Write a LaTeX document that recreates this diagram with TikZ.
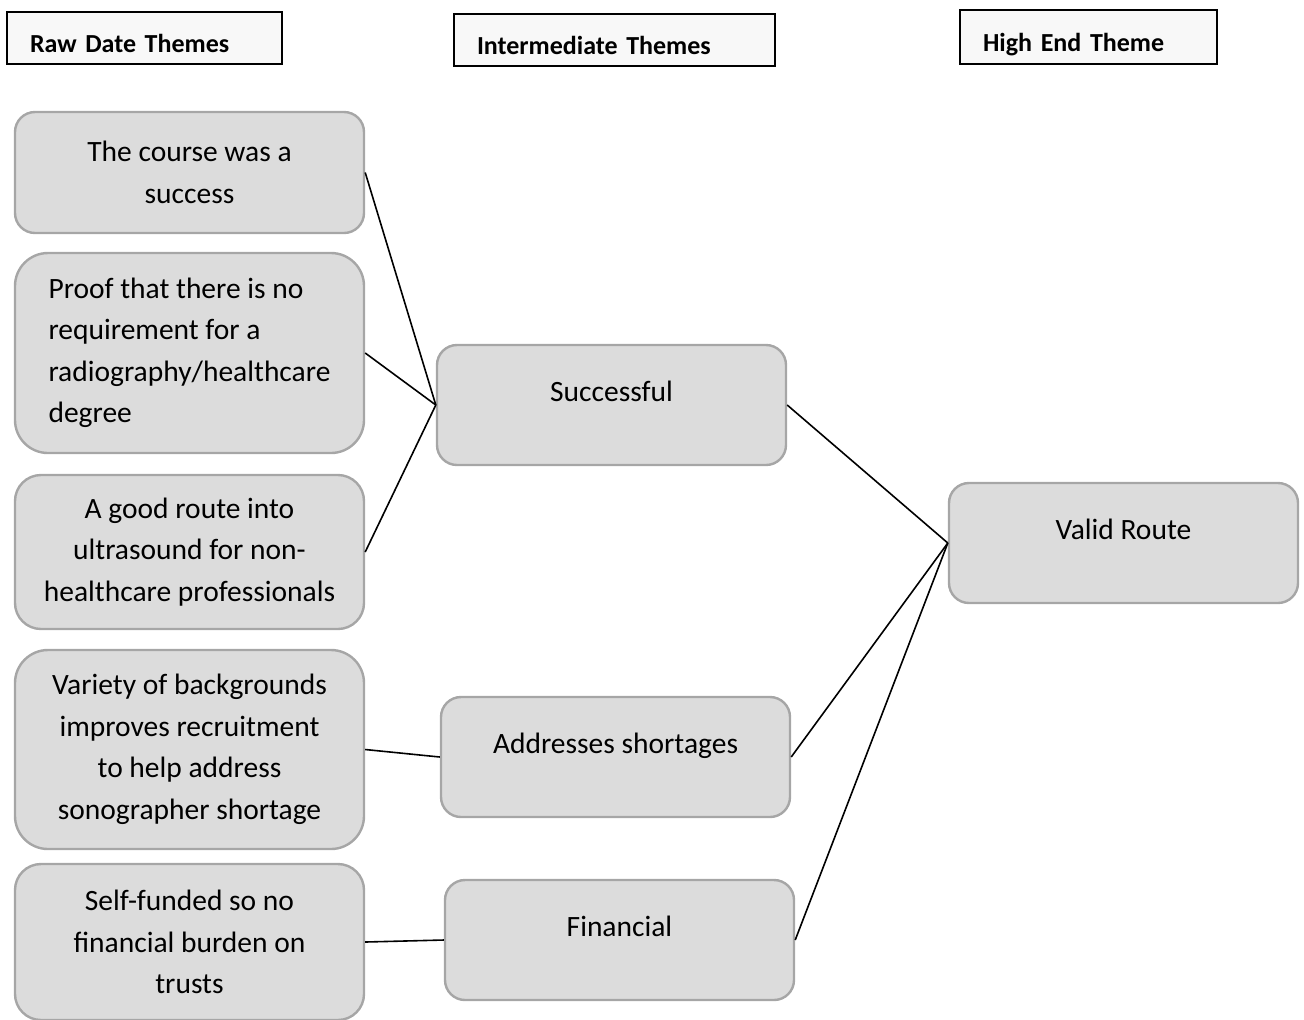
\documentclass[tikz,border=0pt]{standalone}
\usepackage{fontspec}
\setmainfont{Carlito}
\usetikzlibrary{positioning}

\definecolor{themefill}{HTML}{DCDCDC}
\definecolor{themeline}{HTML}{A6A6A6}
\definecolor{headfill}{HTML}{F8F8F8}

\tikzstyle{headnode} = [rectangle, draw=black, fill=headfill, line width=1pt, anchor=north west, align=left, inner xsep=11.5pt, text height=14.4pt, text depth=0pt, font=\fontsize{13}{15.6}\selectfont\bfseries]
\tikzstyle{rawnode} = [rectangle, rounded corners=10pt, draw=themeline, fill=themefill, line width=1.2pt, minimum width=174.5pt, align=center, font=\fontsize{14.75}{20.75}\selectfont]
\tikzstyle{midnode} = [rawnode, minimum height=60pt, text height=10pt, text depth=13.1pt]

\begin{document}
\begin{tikzpicture}[x=0.5pt, y=-0.5pt, node distance=8.8pt, thick]
        \useasboundingbox (0,0) rectangle (1304,1019);

        \node[headnode, text width=114.5pt, minimum height=26pt] (hraw) at (6,11) {Raw Date Themes};
        \node[headnode, text width=137.5pt, minimum height=26pt] (hmid) at (453,13) {Intermediate Themes};
        \node[headnode, text width=105.5pt, minimum height=27pt] (hhigh) at (959,9) {High End Theme};

        \node[rawnode, minimum height=60.5pt] (course) at (189.5,172.5) {The course was a\\success};
        \node[rawnode, below=of course, minimum height=100pt, rounded corners=16.5pt, align=left] (proof) {Proof that there is no\\requirement for a\\radiography/healthcare\\degree};
        \node[rawnode, below=9.8pt of proof, minimum height=77pt, rounded corners=13pt] (route) {A good route into\\ultrasound for non-\\healthcare professionals};
        \node[rawnode, below=9.3pt of route, minimum height=99.5pt, rounded corners=16.5pt] (variety) {Variety of backgrounds\\improves recruitment\\to help address\\sonographer shortage};
        \node[rawnode, below=6.3pt of variety, minimum height=78pt, rounded corners=13pt] (funded) {Self-funded so no\\financial burden on\\trusts};

        \node[midnode] (success) at (611.5,405) {Successful};
        \node[midnode] (shortage) at (615.5,757) {Addresses shortages};
        \node[midnode] (finance) at (619.5,940) {Financial};

        \node[midnode] (valid) at (1123.5,543) {Valid Route};

        \draw (course.east) -- (success.west);
        \draw (proof.east) -- (success.west);
        \draw (route.east) -- (success.west);
        \draw (variety.east) -- (shortage.west);
        \draw (funded.east) -- (finance.west);
        \draw (success.east) -- (valid.west);
        \draw (shortage.east) -- (valid.west);
        \draw (finance.east) -- (valid.west);

    \end{tikzpicture}
\end{document}
